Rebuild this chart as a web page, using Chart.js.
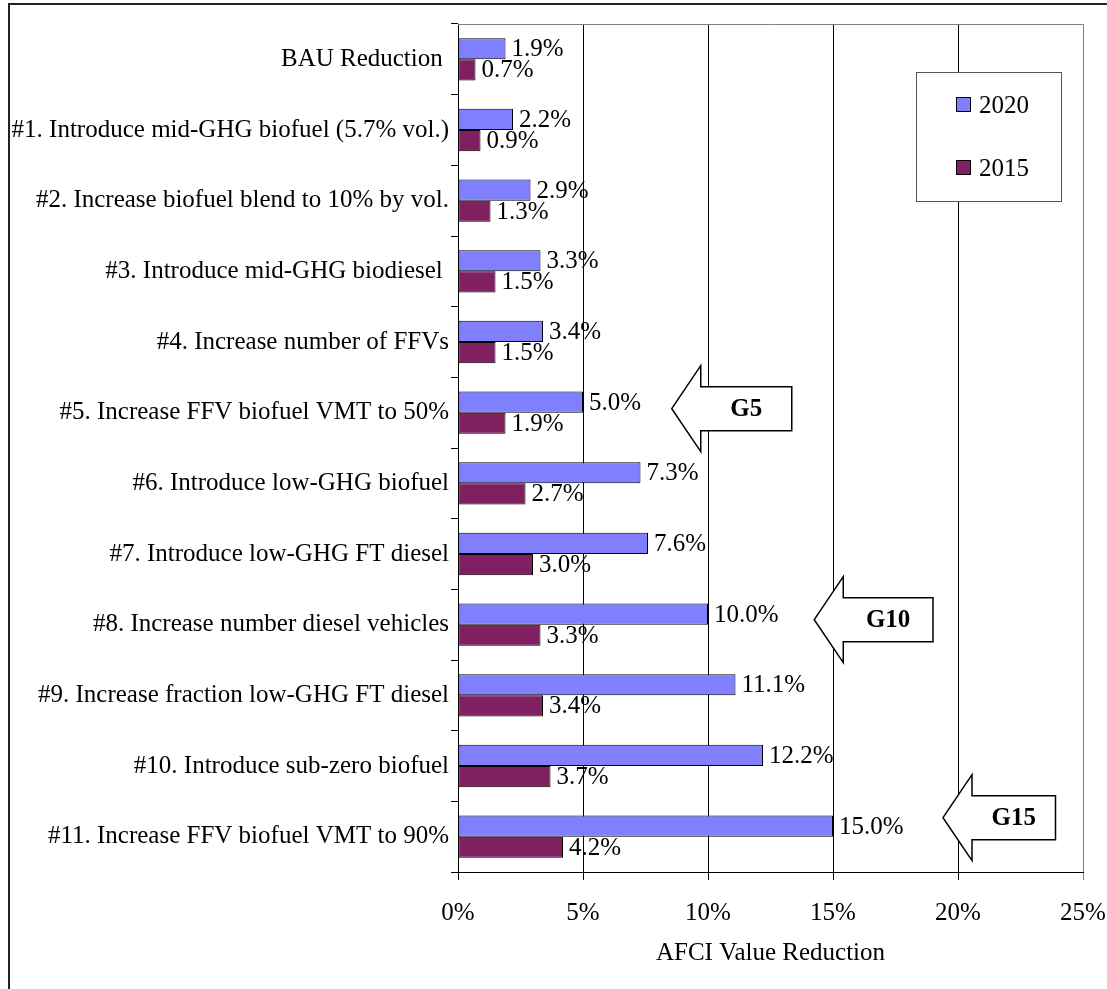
<!doctype html>
<html>
<head>
    <meta charset="UTF-8">
    <title>AFCI Value Reduction</title>
    <style>
        body { margin: 0; background: #fff; }
        canvas { display: block; }
    </style>
</head>
<body>
<canvas id="myCanvas" width="1107" height="989"></canvas>
<script src="https://cdn.jsdelivr.net/npm/chart.js@4.4.1/dist/chart.umd.min.js"></script>
<script>
    var steps = [
        'BAU Reduction ',
        '#1. Introduce mid-GHG biofuel (5.7% vol.)',
        '#2. Increase biofuel blend to 10% by vol.',
        '#3. Introduce mid-GHG biodiesel ',
        '#4. Increase number of FFVs',
        '#5. Increase FFV biofuel VMT to 50%',
        '#6. Introduce low-GHG biofuel',
        '#7. Introduce low-GHG FT diesel',
        '#8. Increase number diesel vehicles',
        '#9. Increase fraction low-GHG FT diesel',
        '#10. Introduce sub-zero biofuel',
        '#11. Increase FFV biofuel VMT to 90%'
    ];
    var red2020 = [1.9, 2.2, 2.9, 3.3, 3.4, 5.0, 7.3, 7.6, 10.0, 11.1, 12.2, 15.0];
    var red2015 = [0.7, 0.9, 1.3, 1.5, 1.5, 1.9, 2.7, 3.0, 3.3, 3.4, 3.7, 4.2];
    var xTicks = [0, 5, 10, 15, 20, 25];

    // goal arrows: row = step index, tip/tail in % on the x scale
    var goals = [
        { label: 'G5',  row: 5,  tip: 8.55,  tail: 13.35, dy: -4 },
        { label: 'G10', row: 8,  tip: 14.25, tail: 19.0,  dy: -5 },
        { label: 'G15', row: 11, tip: 19.4,  tail: 23.9,  dy: -19 }
    ];

    var serif = "'Liberation Serif', 'Times New Roman', serif";
    var fontPx = 25;
    Chart.defaults.font.family = serif;
    Chart.defaults.font.size = fontPx;
    Chart.defaults.color = '#000';

    var valueLabels = {
        id: 'valueLabels',
        afterDatasetsDraw: function(chart) {
            var ctx = chart.ctx;
            ctx.save();
            ctx.font = fontPx + 'px ' + serif;
            ctx.fillStyle = '#000';
            ctx.textAlign = 'left';
            ctx.textBaseline = 'middle';
            chart.data.datasets.forEach(function(ds, i) {
                chart.getDatasetMeta(i).data.forEach(function(bar, j) {
                    ctx.fillText(ds.data[j].toFixed(1) + '%', bar.x + 6, bar.y + 1);
                });
            });
            ctx.restore();
        }
    };

    var extras = {
        id: 'extras',
        afterDraw: function(chart) {
            var ctx = chart.ctx;
            var area = chart.chartArea;
            var xs = chart.scales.x, ys = chart.scales.y;
            ctx.save();

            // plot area top edge
            ctx.strokeStyle = '#808080';
            ctx.lineWidth = 1;
            ctx.beginPath();
            ctx.moveTo(area.left, area.top + 0.5);
            ctx.lineTo(area.right, area.top + 0.5);
            ctx.stroke();

            // arrows
            goals.forEach(function(g) {
                var x0 = xs.getPixelForValue(g.tip);
                var x2 = xs.getPixelForValue(g.tail);
                var xh = x0 + 29;
                var cy = ys.getPixelForValue(g.row) + g.dy;
                var H = 43, S = 22;
                ctx.beginPath();
                ctx.moveTo(x0, cy);
                ctx.lineTo(xh, cy - H);
                ctx.lineTo(xh, cy - S);
                ctx.lineTo(x2, cy - S);
                ctx.lineTo(x2, cy + S);
                ctx.lineTo(xh, cy + S);
                ctx.lineTo(xh, cy + H);
                ctx.closePath();
                ctx.fillStyle = '#fff';
                ctx.fill();
                ctx.strokeStyle = '#000';
                ctx.lineWidth = 1.5;
                ctx.stroke();
                ctx.fillStyle = '#000';
                ctx.font = 'bold ' + fontPx + 'px ' + serif;
                ctx.textAlign = 'center';
                ctx.textBaseline = 'middle';
                ctx.fillText(g.label, (xh + x2) / 2, cy + 1);
            });

            // legend box
            var bx = 916, by = 72, bw = 145, bh = 129;
            ctx.fillStyle = '#fff';
            ctx.fillRect(bx, by, bw, bh);
            ctx.strokeStyle = '#555';
            ctx.lineWidth = 1;
            ctx.strokeRect(bx + 0.5, by + 0.5, bw, bh);
            ctx.font = fontPx + 'px ' + serif;
            ctx.textAlign = 'left';
            ctx.textBaseline = 'middle';
            var rowsY = [105, 168];
            chart.data.datasets.forEach(function(ds, i) {
                var y = rowsY[i];
                ctx.fillStyle = ds.backgroundColor;
                ctx.fillRect(956.5, y - 7.5, 14, 14);
                ctx.strokeStyle = '#000';
                ctx.strokeRect(956.5, y - 7.5, 14, 14);
                ctx.fillStyle = '#000';
                ctx.fillText(ds.label, 979, y + 1);
            });

            // outer frame
            ctx.strokeStyle = '#222';
            ctx.lineWidth = 2;
            ctx.beginPath();
            ctx.moveTo(9, chart.height + 2);
            ctx.lineTo(9, 4);
            ctx.lineTo(chart.width + 2, 4);
            ctx.stroke();
            ctx.restore();
        }
    };

    var ctx = document.getElementById('myCanvas').getContext('2d');
    var myChart = new Chart(ctx, {
        type: 'bar',
        data: {
            labels: steps,
            datasets: [{
                label: '2020',
                backgroundColor: '#8080FF',
                borderColor: '#000',
                borderWidth: 1,
                borderSkipped: false,
                data: red2020
            }, {
                label: '2015',
                backgroundColor: '#802060',
                borderColor: '#000',
                borderWidth: 1,
                borderSkipped: false,
                data: red2015
            }]
        },
        options: {
            indexAxis: 'y',
            responsive: false,
            animation: false,
            devicePixelRatio: 1,
            categoryPercentage: 0.6,
            barPercentage: 1,
            layout: { padding: { top: 24, right: 24, bottom: 0, left: 0 } },
            plugins: {
                legend: { display: false },
                tooltip: { enabled: false }
            },
            scales: {
                x: {
                    min: 0,
                    max: 25,
                    afterBuildTicks: function(scale) {
                        scale.ticks = xTicks.map(function(v) { return { value: v }; });
                    },
                    afterFit: function(scale) {
                        scale.height = 117;
                        scale.paddingLeft = 0;
                        scale.paddingRight = 0;
                    },
                    ticks: {
                        padding: 18,
                        callback: function(v) { return v + '%'; }
                    },
                    grid: {
                        color: function(c) { return c.tick && c.tick.value === 25 ? '#808080' : '#000'; },
                        tickLength: 8,
                        lineWidth: 1
                    },
                    border: { color: '#000', width: 1 },
                    title: {
                        display: true,
                        text: 'AFCI Value Reduction',
                        padding: { top: 0, bottom: 21 }
                    }
                },
                y: {
                    afterFit: function(scale) {
                        scale.width = 458;
                        scale.paddingTop = 0;
                        scale.paddingBottom = 0;
                    },
                    ticks: { padding: 2, autoSkip: false },
                    grid: {
                        drawOnChartArea: false,
                        color: '#000',
                        tickLength: 7
                    },
                    border: { color: '#000', width: 1 }
                }
            }
        },
        plugins: [valueLabels, extras]
    });
</script>
</body>
</html>
